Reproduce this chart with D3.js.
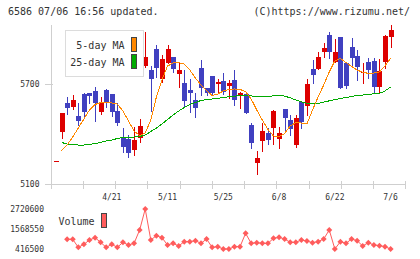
<!DOCTYPE html>
<html><head><meta charset="utf-8">
<script src="https://cdn.jsdelivr.net/npm/d3@7"></script>
<style>
body{margin:0;background:#fff}
svg{display:block}
text{font-family:"DejaVu Sans Mono",monospace;fill:#333}
</style>
</head><body>
<svg id="c" width="420" height="259"></svg>
<script>
const dates = ["4/7","4/8","4/9","4/10","4/13","4/14","4/15","4/16","4/17","4/20",
"4/21","4/22","4/23","4/24","4/27","4/28","4/30","5/1","5/7","5/8",
"5/11","5/12","5/13","5/14","5/15","5/18","5/19","5/20","5/21","5/22",
"5/25","5/26","5/27","5/28","5/29","6/1","6/2","6/3","6/4","6/5",
"6/8","6/9","6/10","6/11","6/12","6/15","6/16","6/17","6/18","6/19",
"6/22","6/23","6/24","6/25","6/26","6/29","6/30","7/1","7/2","7/3","7/6"];
const dateLabels = ["4/21","5/11","5/25","6/8","6/22","7/6"];
const opens = [5238,5410,5588,5564,5508,5638,5644,5658,5534,5664,5638,5538,5374,5368,5304,5374,5810,5784,5908,5728,5828,5860,5758,5708,5664,5604,5794,5678,5748,5700,5718,5690,5724,5634,5640,5454,5228,5360,5404,5438,5370,5550,5484,5334,5594,5570,5790,5790,5894,5994,5834,5984,5828,5920,5868,5764,5830,5838,5680,5834,5984];
const highs = [5238,5524,5620,5635,5584,5648,5648,5684,5624,5670,5640,5584,5434,5394,5440,5490,6012,5808,5934,5874,5934,5860,5824,5784,5730,5648,5844,5678,5748,5730,5764,5724,5784,5650,5640,5464,5298,5468,5434,5544,5444,5550,5514,5514,5594,5730,5844,5890,5944,6014,5968,5984,5828,5976,5904,5824,5854,5854,5848,5994,6054];
const lows = [5238,5374,5520,5550,5454,5504,5586,5478,5520,5560,5510,5454,5294,5264,5274,5354,5800,5540,5744,5712,5828,5772,5684,5568,5534,5500,5634,5634,5640,5654,5640,5618,5574,5558,5528,5314,5160,5300,5340,5340,5318,5424,5394,5324,5438,5514,5704,5790,5864,5859,5834,5674,5676,5814,5724,5708,5734,5648,5654,5794,5924];
const closes = [5238,5524,5558,5604,5478,5534,5631,5588,5588,5588,5530,5468,5324,5284,5364,5448,5860,5730,5798,5848,5908,5790,5784,5598,5644,5559,5678,5648,5648,5714,5654,5704,5604,5644,5528,5348,5256,5418,5364,5538,5404,5498,5430,5498,5474,5700,5754,5860,5914,5894,5894,5674,5688,5854,5804,5774,5784,5684,5780,5988,6024];
const ma5 = [null,5300,5334,5382,5436,5490,5544,5577,5588,5588,5586,5580,5538,5478,5418,5391,5406,5484,5622,5724,5808,5826,5828,5820,5784,5736,5694,5660,5631,5640,5658,5667,5670,5667,5655,5610,5544,5484,5427,5388,5385,5403,5448,5469,5466,5460,5544,5622,5694,5772,5838,5853,5829,5805,5784,5770,5764,5766,5772,5808,5853];
const ma25 = [null,5349,5340,5337,5334,5334,5337,5343,5349,5358,5364,5373,5379,5382,5382,5385,5394,5415,5436,5460,5487,5514,5538,5559,5577,5589,5601,5607,5610,5613,5619,5623,5627,5631,5633,5629,5624,5622,5624,5629,5632,5627,5617,5604,5593,5584,5580,5583,5591,5599,5607,5613,5619,5625,5631,5634,5638,5641,5644,5658,5683];
const volumes = [null,null,973000,973000,512000,685000,935000,1069000,800000,512000,685000,512000,800000,647000,743000,1511000,2720600,935000,1184000,1069000,647000,743000,589000,839000,839000,896000,743000,992000,512000,551000,416500,416500,551000,551000,1319000,743000,781000,743000,743000,1031000,1089000,992000,800000,800000,935000,877000,781000,839000,992000,1511000,416500,839000,743000,992000,896000,589000,781000,647000,608000,551000,416500];
const priceTicks = [5100, 5700];
const volumeTicks = [416500, 1568550, 2720600];
const legendItems = ["5-day MA", "25-day MA"];

const svg = d3.select("#c");
const x = d3.scalePoint().domain(dates).range([56, 390.6]);
const y = d3.scaleLinear().domain([5100, 5700]).range([184, 84]);
const yv = d3.scaleLinear().domain([416500, 2720600]).range([249, 209]);
const axisX = d3.scaleLinear().domain([0, 11]).range([50.7, 405.3]);

const UP = "#dd0000", DOWN = "#4040c0", GRID = "#cfcfcf";

// title
svg.append("text").attr("x", 8).attr("y", 15).style("font-size", "10px").text("6586 07/06 16:56 updated.");
svg.append("text").attr("x", 410).attr("y", 15).attr("text-anchor", "end").style("font-size", "10px").text("(C)https://www.rizumu.net/");

// axes
const ax = svg.append("g").attr("shape-rendering", "crispEdges").attr("stroke", GRID);
ax.append("line").attr("x1", 51.5).attr("x2", 51.5).attr("y1", 25).attr("y2", 189);
ax.append("line").attr("x1", 45).attr("x2", 406).attr("y1", y(5100) + 0.5).attr("y2", y(5100) + 0.5);
d3.range(12).forEach(k => {
  const xx = Math.round(axisX(k)) + 0.5;
  ax.append("line").attr("x1", xx).attr("x2", xx).attr("y1", 181).attr("y2", 189);
});
priceTicks.forEach(p => {
  ax.append("line").attr("x1", 45).attr("x2", 53).attr("y1", Math.round(y(p)) + 0.5).attr("y2", Math.round(y(p)) + 0.5);
  svg.append("text").attr("x", 39.5).attr("y", y(p) + 3).attr("text-anchor", "end").style("font-size", "8px").text(p);
});
dateLabels.forEach(d => {
  svg.append("text").attr("x", x(d)).attr("y", 200).attr("text-anchor", "middle").style("font-size", "8px").text(d);
});

// candles
const cg = svg.append("g").attr("shape-rendering", "crispEdges");
dates.forEach((d, i) => {
  const cx = Math.round(x(d));
  const col = closes[i] >= opens[i] ? UP : DOWN;
  cg.append("line").attr("x1", cx + 0.5).attr("x2", cx + 0.5)
    .attr("y1", Math.round(y(highs[i]))).attr("y2", Math.round(y(lows[i])) + 1).attr("stroke", col);
  const t = Math.round(Math.min(y(opens[i]), y(closes[i])));
  const b = Math.round(Math.max(y(opens[i]), y(closes[i])));
  cg.append("rect").attr("x", cx - 2).attr("width", 5).attr("y", t).attr("height", Math.max(1, b - t)).attr("fill", col);
});

// moving averages
const line = d3.line().defined(v => v != null).x((v, i) => x(dates[i])).y(v => y(v));
svg.append("path").attr("d", line(ma25)).attr("fill", "none").attr("stroke", "#00aa00").attr("stroke-width", 1).attr("shape-rendering", "crispEdges");
svg.append("path").attr("d", line(ma5)).attr("fill", "none").attr("stroke", "#ff8800").attr("stroke-width", 1).attr("shape-rendering", "crispEdges");

// legend
const lg = svg.append("g");
lg.append("rect").attr("x", 65.5).attr("y", 30.5).attr("width", 78).attr("height", 46).attr("fill", "#fff").attr("stroke", "#dcdcdc").attr("shape-rendering", "crispEdges");
const legendColors = ["#ff8800", "#00aa00"];
legendItems.forEach((t, k) => {
  lg.append("text").attr("x", 124.5).attr("y", 49 + k * 17).attr("text-anchor", "end").style("font-size", "10px").text(t);
  lg.append("rect").attr("x", 131.5).attr("y", 37.5 + k * 17).attr("width", 5).attr("height", 14).attr("fill", legendColors[k]).attr("stroke", "#444").attr("shape-rendering", "crispEdges");
});

// volume
const VCOL = "#ff5c5c";
volumeTicks.forEach(v => {
  svg.append("text").attr("x", 44).attr("y", yv(v) + 3).attr("text-anchor", "end").style("font-size", "8px").text(v);
});
svg.append("text").attr("x", 58.5).attr("y", 225).style("font-size", "10px").text("Volume");
svg.append("rect").attr("x", 101.5).attr("y", 213.5).attr("width", 5).attr("height", 14).attr("fill", VCOL).attr("stroke", "#444").attr("shape-rendering", "crispEdges");
const vline = d3.line().defined(v => v != null).x((v, i) => x(dates[i])).y(v => yv(v));
svg.append("path").attr("d", vline(volumes)).attr("fill", "none").attr("stroke", VCOL).attr("stroke-width", 1);
svg.append("g").selectAll("path").data(volumes.map((v, i) => [v, i]).filter(p => p[0] != null)).join("path")
  .attr("transform", p => `translate(${x(dates[p[1]])},${yv(p[0])})`)
  .attr("d", "M0,-3L3,0L0,3L-3,0Z").attr("fill", VCOL);
</script>
</body></html>
